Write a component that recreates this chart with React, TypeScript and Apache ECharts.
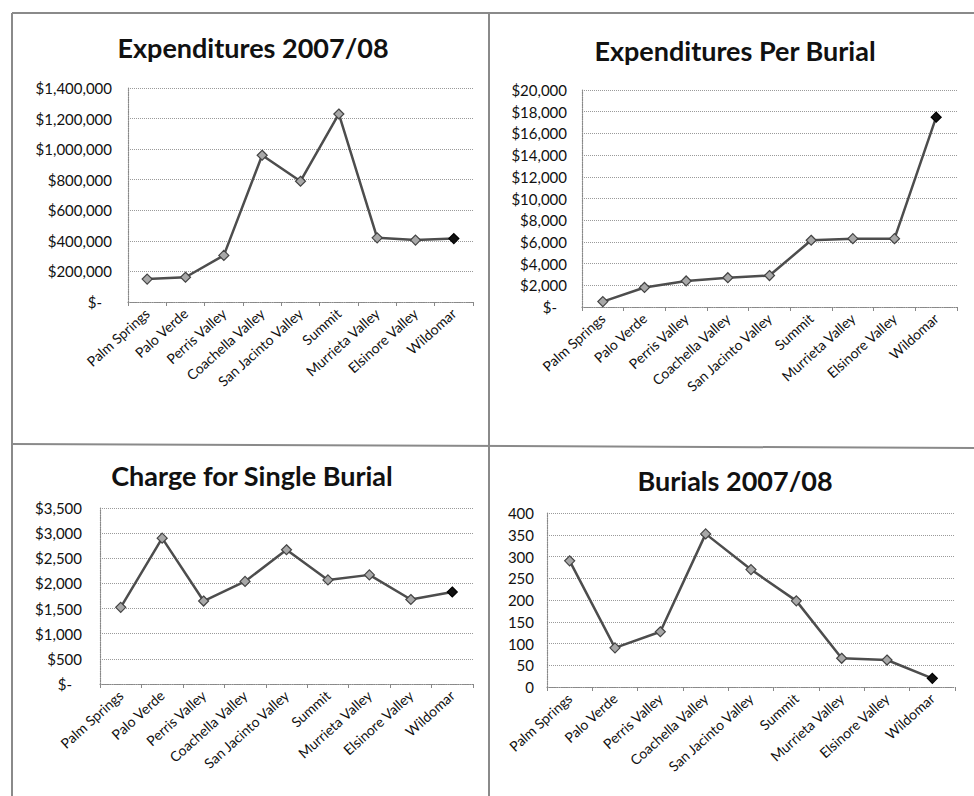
import React, { useEffect, useRef } from "react";
import * as echarts from "echarts";

const categories = [
  "Palm Springs",
  "Palo Verde",
  "Perris Valley",
  "Coachella Valley",
  "San Jacinto Valley",
  "Summit",
  "Murrieta Valley",
  "Elsinore Valley",
  "Wildomar",
];
const expenditures = [150000, 162000, 305000, 960000, 790000, 1230000, 420000, 405000, 415000];
const perBurial = [500, 1800, 2400, 2700, 2900, 6150, 6300, 6300, 17500];
const chargeSingle = [1525, 2900, 1650, 2040, 2670, 2070, 2170, 1680, 1830];
const burials = [290, 90, 127, 352, 270, 198, 66, 62, 20];

const titles = ["Expenditures 2007/08", "Expenditures Per Burial", "Charge for Single Burial", "Burials 2007/08"];
const yMax = [1400000, 20000, 3500, 400];
const yStep = [200000, 2000, 500, 50];

const FONT = "Lato, 'Open Sans', sans-serif";

const money = (v: number) =>
  v === 0 ? "{z|$-}" : "$" + v.toLocaleString("en-US");

export default function App() {
  const ref = useRef<HTMLDivElement>(null);
  useEffect(() => {
    if (!ref.current) return;
    const chart = echarts.init(ref.current, undefined, { renderer: "svg" });
    const grids = [
      { left: 128, top: 88, width: 345, height: 214 },
      { left: 582, top: 90, width: 375, height: 217 },
      { left: 100, top: 508, width: 373, height: 176 },
      { left: 547, top: 513, width: 408, height: 174 },
    ];
    const labelMargins = [16, 15, 18, 13];
    const seriesData = [expenditures, perBurial, chargeSingle, burials];
    const titlePos = [
      [253, 47],
      [735, 50],
      [252, 475],
      [735, 480],
    ];
    const dotted = { color: "#9a9a9a", type: "dotted" as const, width: 1 };
    const option: any = {
      animation: false,
      backgroundColor: "#ffffff",
      grid: grids.map((g) => ({ ...g, containLabel: false })),
      xAxis: grids.map((_, i) => ({
        type: "category",
        gridIndex: i,
        data: categories,
        boundaryGap: true,
        axisLine: { show: true, lineStyle: { color: "#888", type: "dotted", width: 1.2 } },
        axisTick: { show: true, interval: 0, length: 4, lineStyle: { color: "#888" } },
        axisLabel: {
          interval: 0,
          rotate: 42,
          margin: 9,
          color: "#111",
          fontFamily: FONT,
          fontSize: 14,
        },
      })),
      yAxis: grids.map((_, i) => ({
        type: "value",
        gridIndex: i,
        min: 0,
        max: yMax[i],
        interval: yStep[i],
        axisLine: { show: true, lineStyle: { color: "#888", type: "dotted", width: 1.2 } },
        axisTick: { show: false },
        splitLine: { show: true, lineStyle: dotted },
        axisLabel: {
          margin: labelMargins[i],
          color: "#111",
          fontFamily: FONT,
          fontSize: 15,
          formatter: i === 3 ? (v: number) => String(v) : money,
          rich: { z: { padding: [0, 10, 0, 0], fontFamily: FONT, fontSize: 15, color: "#111" } },
        },
      })),
      series: seriesData.map((arr, i) => ({
        type: "line",
        xAxisIndex: i,
        yAxisIndex: i,
        data: arr.map((v, j) =>
          j === arr.length - 1
            ? { value: v, itemStyle: { color: "#111", borderColor: "#000" } }
            : v
        ),
        symbol: "diamond",
        symbolSize: 10,
        lineStyle: { color: "#4d4d4d", width: 2.5 },
        itemStyle: { color: "#a8a8a8", borderColor: "#444", borderWidth: 1.2 },
      })),
      graphic: [
        ...titles.map((t, i) => ({
          type: "text",
          x: titlePos[i][0],
          y: titlePos[i][1],
          style: {
            text: t,
            font: `bold 27px ${FONT}`,
            fill: "#111",
            align: "center",
            verticalAlign: "middle",
            textAlign: "center",
            textVerticalAlign: "middle",
          },
        })),
        { type: "line", shape: { x1: 12, y1: 13, x2: 974, y2: 13 }, style: { stroke: "#8a8a8a", lineWidth: 2 } },
        { type: "line", shape: { x1: 12, y1: 13, x2: 12, y2: 796 }, style: { stroke: "#8a8a8a", lineWidth: 2 } },
        { type: "line", shape: { x1: 489, y1: 13, x2: 489, y2: 796 }, style: { stroke: "#8a8a8a", lineWidth: 2 } },
        { type: "line", shape: { x1: 12, y1: 444, x2: 974, y2: 448 }, style: { stroke: "#8a8a8a", lineWidth: 2 } },
      ],
    };
    chart.setOption(option);
    return () => chart.dispose();
  }, []);
  return (
    <div
      ref={ref}
      style={{ position: "fixed", left: 0, top: 0, width: 974, height: 796, background: "#fff" }}
    />
  );
}
